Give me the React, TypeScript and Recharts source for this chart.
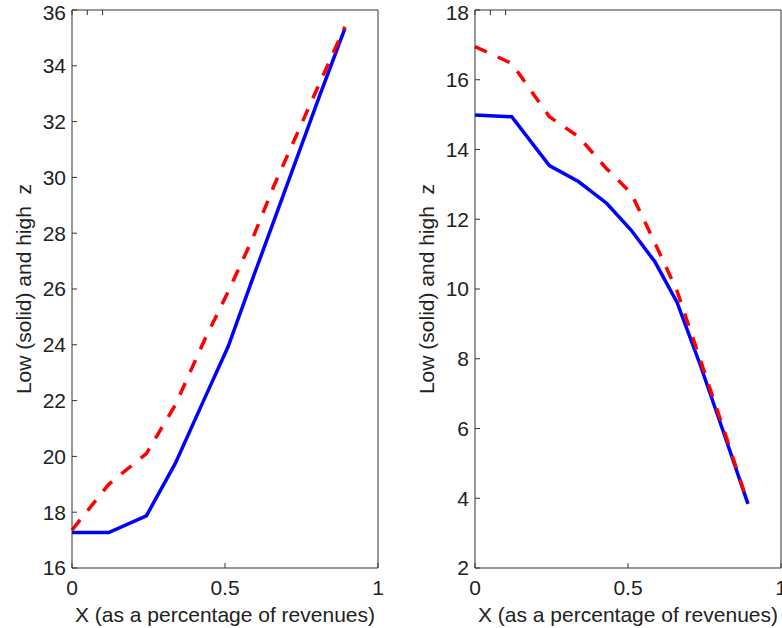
import { Line, LineChart, XAxis, YAxis } from 'recharts'

// shared grid of X values (share of revenues)
const xValues = [0, 0.12, 0.243, 0.338, 0.43, 0.51, 0.588, 0.66, 0.735, 0.81, 0.892]

// left panel
const leftLow = [17.27, 17.27, 17.87, 19.76, 22.0, 23.93, 26.3, 28.45, 30.7, 32.95, 35.34]
const leftHigh = [17.36, 19.0, 20.1, 21.85, 24.1, 25.9, 27.75, 29.7, 31.55, 33.4, 35.4]
const leftTicks = [16, 18, 20, 22, 24, 26, 28, 30, 32, 34, 36]

// right panel
const rightLow = [14.99, 14.94, 13.54, 13.08, 12.46, 11.69, 10.78, 9.62, 7.85, 5.95, 3.84]
const rightHigh = [16.95, 16.47, 14.94, 14.37, 13.45, 12.75, 11.32, 9.95, 8.0, 6.05, 3.85]
const rightTicks = [2, 4, 6, 8, 10, 12, 14, 16, 18]

const xTicks = [0, 0.5, 1]
const xTitle = 'X (as a percentage of revenues)'
const yTitle = 'Low (solid) and high  z'

const ink = '#222'
const frame = '#333'
const font = 'Liberation Sans, Arial, sans-serif'

function YTitle(props: any) {
  const vb = props.viewBox
  const cx = vb.x + 31
  const cy = vb.y + vb.height / 2
  return (
    <text
      x={cx}
      y={cy}
      transform={`rotate(-90 ${cx} ${cy})`}
      textAnchor="middle"
      fontSize={21}
      fill={ink}
      style={{ whiteSpace: 'pre' }}
    >
      {yTitle}
    </text>
  )
}

type PanelProps = {
  low: number[]
  high: number[]
  ticks: number[]
  left: number
}

function Panel({ low, high, ticks, left }: PanelProps) {
  const data = xValues.map((x, i) => ({ x, low: low[i], high: high[i] }))
  const domain: [number, number] = [ticks[0], ticks[ticks.length - 1]]
  const tickStyle = { fontSize: 21, fill: ink, fontFamily: font }

  return (
    <div style={{ position: 'absolute', left, top: 0 }}>
      <LineChart width={400} height={628} data={data} margin={{ top: 5, right: 20, bottom: 0, left: 0 }}>
        <XAxis
          dataKey="x"
          type="number"
          domain={[0, 1]}
          ticks={xTicks}
          height={60}
          tickSize={-5}
          tickMargin={17}
          tick={tickStyle}
          axisLine={{ stroke: frame }}
          tickLine={{ stroke: frame }}
          label={{ value: xTitle, position: 'insideBottom', offset: 6, fontSize: 21, fill: ink }}
        />
        <XAxis
          xAxisId="top"
          orientation="top"
          type="number"
          domain={[0, 1]}
          ticks={xTicks}
          height={5}
          tickSize={-5}
          tickFormatter={() => ''}
          axisLine={{ stroke: frame }}
          tickLine={{ stroke: frame }}
        />
        <YAxis
          type="number"
          domain={domain}
          ticks={ticks}
          width={72}
          tickSize={-5}
          tickMargin={11}
          tick={tickStyle}
          axisLine={{ stroke: frame }}
          tickLine={{ stroke: frame }}
          label={<YTitle />}
        />
        <YAxis
          yAxisId="right"
          orientation="right"
          type="number"
          domain={domain}
          ticks={ticks}
          width={2}
          tickSize={-5}
          tickFormatter={() => ''}
          axisLine={{ stroke: frame }}
          tickLine={{ stroke: frame }}
        />
        <Line
          type="linear"
          dataKey="low"
          stroke="#0000ff"
          strokeWidth={3.5}
          dot={false}
          isAnimationActive={false}
        />
        <Line
          type="linear"
          dataKey="high"
          stroke="#ff0000"
          strokeWidth={3.5}
          strokeDasharray="13 12"
          dot={false}
          isAnimationActive={false}
        />
      </LineChart>
    </div>
  )
}

export default function App() {
  return (
    <div
      style={{
        position: 'fixed',
        left: 0,
        top: 0,
        width: 782,
        height: 628,
        overflow: 'hidden',
        background: '#fff',
        fontFamily: font,
      }}
    >
      <Panel low={leftLow} high={leftHigh} ticks={leftTicks} left={0} />
      <Panel low={rightLow} high={rightHigh} ticks={rightTicks} left={403} />
    </div>
  )
}
